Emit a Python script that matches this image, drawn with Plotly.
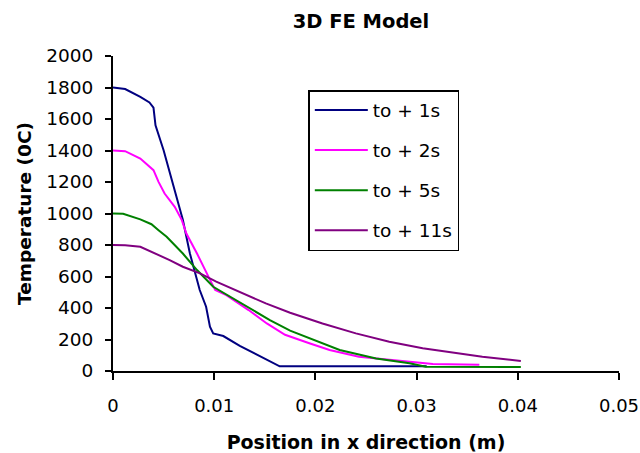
import plotly.graph_objects as go

# Temperature profiles along x at successive times after to
x_1s = [0, 0.0012, 0.0027, 0.0036, 0.0040, 0.0042, 0.0050, 0.00564, 0.0063, 0.0069, 0.0076,
        0.00824, 0.00857, 0.0092, 0.00958, 0.0099, 0.0109, 0.01253, 0.0145, 0.01647, 0.031]
t_1s = [1800, 1790, 1740, 1705, 1672, 1560, 1402, 1254, 1106, 960, 746,
        598, 514, 408, 281, 239, 222, 159, 95, 30, 30]

x_2s = [0, 0.0012, 0.0027, 0.0040, 0.0045, 0.0051, 0.0061, 0.0068, 0.00725, 0.0083,
        0.0096, 0.0101, 0.0112, 0.0134, 0.0152, 0.0170, 0.0194, 0.0214, 0.0243, 0.0273,
        0.0296, 0.0316, 0.0362]
t_2s = [1400, 1396, 1349, 1275, 1201, 1127, 1042, 958, 873, 746,
        577, 514, 482, 387, 302, 230, 176, 133, 91, 70,
        55, 44, 40]

x_5s = [0, 0.0010, 0.0027, 0.0038, 0.0045, 0.0053, 0.0069, 0.0083, 0.0099, 0.0119,
        0.0135, 0.0155, 0.0175, 0.0204, 0.0224, 0.0260, 0.0293, 0.0309, 0.0403]
t_5s = [1000, 998, 963, 932, 894, 852, 746, 641, 535, 461,
        398, 323, 256, 186, 133, 80, 49, 27, 25]

x_11s = [0, 0.0012, 0.0027, 0.0042, 0.0056, 0.0069, 0.0086, 0.0102, 0.0125, 0.0151,
         0.0175, 0.0207, 0.0240, 0.0273, 0.0306, 0.0339, 0.0365, 0.0403]
t_11s = [800, 798, 789, 746, 704, 662, 620, 567, 503, 429,
         370, 302, 239, 186, 144, 112, 91, 63]

series_names = ["to + 1s", "to + 2s", "to + 5s", "to + 11s"]
series_colors = ["#000080", "#FF00FF", "#008000", "#800080"]
x_ticks = [0, 0.01, 0.02, 0.03, 0.04, 0.05]
x_tick_text = ["0", "0.01", "0.02", "0.03", "0.04", "0.05"]
y_ticks = list(range(0, 2001, 200))

FONT = "DejaVu Sans"

fig = go.Figure()
for i, (xs, ts) in enumerate([(x_1s, t_1s), (x_2s, t_2s), (x_5s, t_5s), (x_11s, t_11s)]):
    fig.add_trace(go.Scatter(
        x=xs, y=ts, mode="lines", name=series_names[i],
        legendgroup=f"g{i}",
        line=dict(color=series_colors[i], width=2),
    ))

fig.update_layout(
    width=640, height=453,
    margin=dict(l=113, r=21, t=56, b=82, pad=0, autoexpand=False),
    paper_bgcolor="white", plot_bgcolor="white",
    font=dict(family=FONT, size=18.5, color="black"),
    title=dict(text="<b>3D FE Model</b>", x=0.564, xanchor="center",
               y=1 - 21 / 453, yanchor="middle", yref="container",
               font=dict(family=FONT, size=19.5, color="black")),
    showlegend=True,
    legend=dict(x=0.386, y=0.892, xanchor="left", yanchor="top",
                bordercolor="black", borderwidth=1.5, bgcolor="white",
                tracegroupgap=13, traceorder="grouped", itemwidth=53,
                font=dict(family=FONT, size=18.5, color="black")),
)

fig.update_xaxes(
    range=[0, 0.05], tickvals=x_ticks, ticktext=x_tick_text,
    tickfont=dict(family=FONT, size=18, color="black"),
    showgrid=False, zeroline=False, showline=True, linecolor="black", linewidth=2,
    ticks="outside", ticklen=7, tickwidth=2, tickcolor="black",
    ticklabelstandoff=10, ticklabeloverflow="allow", automargin=False,
    title=dict(text="<b>Position in x direction (m)</b>", standoff=21,
               font=dict(family=FONT, size=19, color="black")),
)
fig.update_yaxes(
    range=[0, 2000], tickvals=y_ticks,
    showgrid=False, zeroline=False, showline=True, linecolor="black", linewidth=2,
    ticks="outside", ticklen=6, tickwidth=2, tickcolor="black",
    ticklabelstandoff=8, ticklabeloverflow="allow", automargin=False,
    title=dict(text="<b>Temperature (0C)</b>", standoff=10,
               font=dict(family=FONT, size=18.5, color="black")),
)

fig.write_html("out.html")
